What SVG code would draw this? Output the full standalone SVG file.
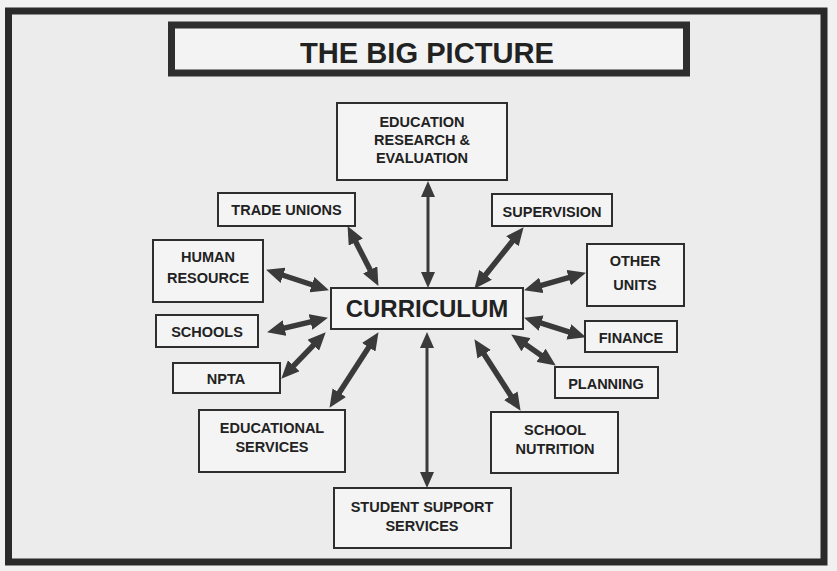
<svg xmlns="http://www.w3.org/2000/svg" width="837" height="571" viewBox="0 0 837 571">
  <defs>
    <style>
      .box { fill: #f4f4f4; stroke: #2e2e2e; stroke-width: 2; }
      .lbl { font-family: "Liberation Sans", Arial, sans-serif; font-weight: bold; font-size: 14.5px; fill: #222; text-anchor: middle; }
      .arr { stroke: #3a3a3a; stroke-width: 5.5; fill: none; marker-start: url(#head); marker-end: url(#head); }
      .varr { stroke: #3a3a3a; stroke-width: 3; fill: none; marker-start: url(#vhead); marker-end: url(#vhead); }
    </style>
    <marker id="head" markerUnits="userSpaceOnUse" markerWidth="18" markerHeight="16" viewBox="0 0 18 16" refX="9" refY="8" orient="auto-start-reverse">
      <path d="M0,0 L18,8 L0,16 Z" fill="#3a3a3a"/>
    </marker>
    <marker id="vhead" markerUnits="userSpaceOnUse" markerWidth="16" markerHeight="14" viewBox="0 0 16 14" refX="8" refY="7" orient="auto-start-reverse">
      <path d="M0,0 L16,7 L0,14 Z" fill="#3a3a3a"/>
    </marker>
  </defs>

  <rect x="0" y="0" width="837" height="571" fill="#f1f1f1"/>
  <rect x="8.5" y="11" width="815.5" height="551" fill="#ececec" stroke="#2a2a2a" stroke-width="7"/>

  <g id="title">
    <rect x="171.5" y="25" width="515" height="48" fill="#f3f3f3" stroke="#2e2e2e" stroke-width="7"/>
    <text x="427" y="63" font-family="'Liberation Sans', Arial, sans-serif" font-weight="bold" font-size="29" fill="#222" text-anchor="middle" textLength="254" lengthAdjust="spacingAndGlyphs">THE BIG PICTURE</text>
  </g>

  <g id="connectors">
    <line class="varr" x1="428" y1="189" x2="428" y2="280"/>
    <line class="arr" x1="351.7" y1="234.1" x2="374.3" y2="277.9"/>
    <line class="arr" x1="274.6" y1="272.5" x2="320.4" y2="287.5"/>
    <line class="arr" x1="518" y1="234.2" x2="480" y2="281.8"/>
    <line class="arr" x1="532.7" y1="287.8" x2="577.3" y2="275.2"/>
    <line class="arr" x1="532.6" y1="320.4" x2="577.4" y2="334.6"/>
    <line class="arr" x1="518.6" y1="339.6" x2="548.4" y2="360.4"/>
    <line class="arr" x1="479.3" y1="346.7" x2="515.7" y2="403.3"/>
    <line class="varr" x1="427" y1="340" x2="427" y2="480"/>
    <line class="arr" x1="275.8" y1="330.2" x2="319.2" y2="319.8"/>
    <line class="arr" x1="287.5" y1="372.2" x2="319.5" y2="338.8"/>
    <line class="arr" x1="334.4" y1="400.3" x2="373.6" y2="339.7"/>
  </g>

  <g id="curriculum">
    <rect class="box" x="331" y="288" width="192" height="41"/>
    <text x="427" y="317" font-family="'Liberation Sans', Arial, sans-serif" font-weight="bold" font-size="24" fill="#222" text-anchor="middle">CURRICULUM</text>
  </g>

  <g id="research">
    <rect class="box" x="337" y="103" width="170" height="77"/>
    <text class="lbl" x="422" y="127">EDUCATION</text>
    <text class="lbl" x="422" y="145">RESEARCH &amp;</text>
    <text class="lbl" x="422" y="163">EVALUATION</text>
  </g>

  <g id="trade-unions">
    <rect class="box" x="218" y="193" width="137" height="33"/>
    <text class="lbl" x="286.5" y="215">TRADE UNIONS</text>
  </g>

  <g id="human-resource">
    <rect class="box" x="153" y="240" width="110" height="62"/>
    <text class="lbl" x="208" y="262">HUMAN</text>
    <text class="lbl" x="208" y="283">RESOURCE</text>
  </g>

  <g id="schools">
    <rect class="box" x="156" y="315" width="102" height="32"/>
    <text class="lbl" x="207" y="337">SCHOOLS</text>
  </g>

  <g id="npta">
    <rect class="box" x="173" y="363" width="107" height="30"/>
    <text class="lbl" x="226" y="384">NPTA</text>
  </g>

  <g id="educational-services">
    <rect class="box" x="199" y="410" width="146" height="62"/>
    <text class="lbl" x="272" y="433">EDUCATIONAL</text>
    <text class="lbl" x="272" y="452">SERVICES</text>
  </g>

  <g id="student-support">
    <rect class="box" x="334" y="488" width="177" height="60"/>
    <text class="lbl" x="422" y="512">STUDENT SUPPORT</text>
    <text class="lbl" x="422" y="531">SERVICES</text>
  </g>

  <g id="supervision">
    <rect class="box" x="492" y="194" width="120" height="32"/>
    <text class="lbl" x="552" y="217">SUPERVISION</text>
  </g>

  <g id="other-units">
    <rect class="box" x="587" y="244" width="97" height="62"/>
    <text class="lbl" x="635" y="266">OTHER</text>
    <text class="lbl" x="635" y="290">UNITS</text>
  </g>

  <g id="finance">
    <rect class="box" x="585" y="321" width="92" height="31"/>
    <text class="lbl" x="631" y="343">FINANCE</text>
  </g>

  <g id="planning">
    <rect class="box" x="555" y="367" width="103" height="31"/>
    <text class="lbl" x="606" y="389">PLANNING</text>
  </g>

  <g id="school-nutrition">
    <rect class="box" x="491" y="412" width="127" height="61"/>
    <text class="lbl" x="555" y="435">SCHOOL</text>
    <text class="lbl" x="555" y="454">NUTRITION</text>
  </g>
</svg>
